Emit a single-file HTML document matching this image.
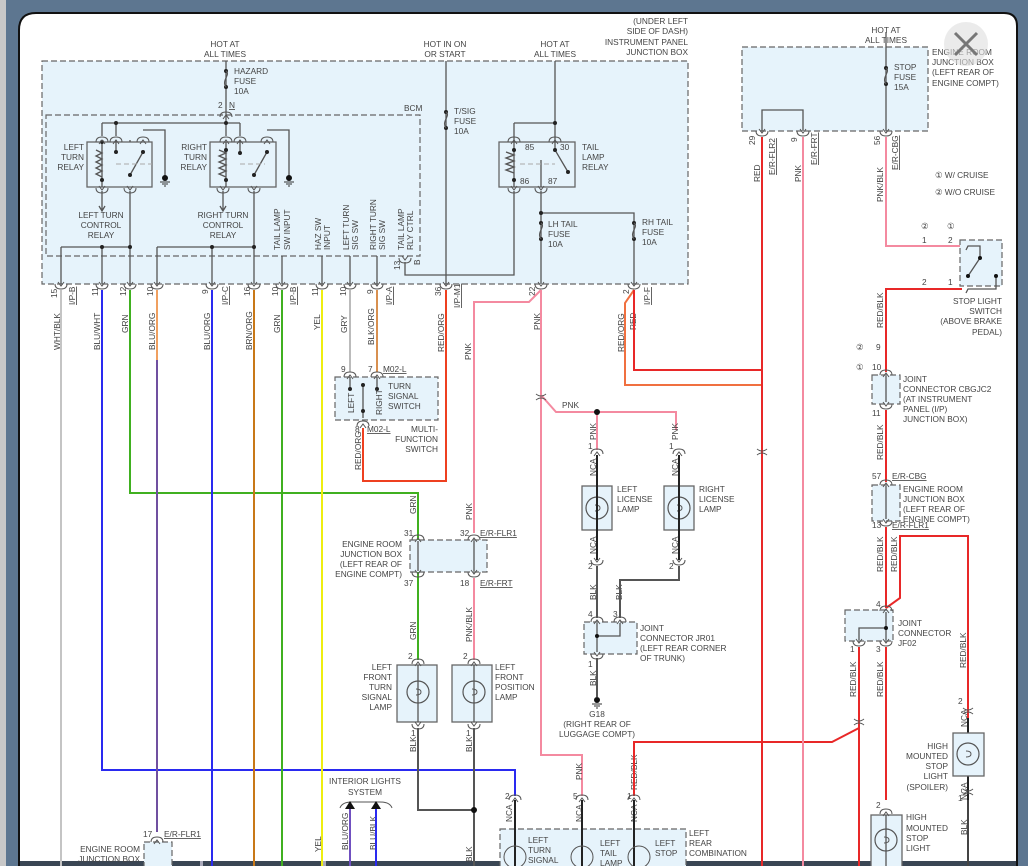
<!DOCTYPE html>
<html><head><meta charset="utf-8"><style>
html,body{margin:0;padding:0;background:#5d7690;}
svg{display:block}
text{font-family:"Liberation Sans",sans-serif;font-size:8.3px;fill:#444;}
.r{text-anchor:end}.m{text-anchor:middle}
.bx{fill:#e6f3fb;stroke:#666;stroke-width:1.2;stroke-dasharray:6,3}
.sb{fill:#e6f3fb;stroke:#666;stroke-width:1.3}
.w{fill:none;stroke-width:2}
.g{fill:none;stroke:#555;stroke-width:1.3}
.u{text-decoration:underline}
</style></head><body>
<svg width="1028" height="866" viewBox="0 0 1028 866" xmlns="http://www.w3.org/2000/svg">
<defs>
<g id="pd"><path d="M-6,-2 Q-6,3 0,3 Q6,3 6,-2" fill="none" stroke="#555" stroke-width="1"/><path d="M-3,-4 L0,0 L3,-4" fill="none" stroke="#555" stroke-width="1"/></g>
<g id="pu"><path d="M-6,2 Q-6,-3 0,-3 Q6,-3 6,2" fill="none" stroke="#555" stroke-width="1"/><path d="M-3,4 L0,0 L3,4" fill="none" stroke="#555" stroke-width="1"/></g>
<g id="cc"><path d="M-5,-3 Q0,1 5,-3 M-5,3 Q0,-1 5,3" fill="none" stroke="#555" stroke-width="1"/></g>
<g id="fu"><circle cx="0" cy="0" r="2" fill="#222"/><circle cx="0" cy="16" r="2" fill="#222"/><path d="M0,0 C5,4 -5,9 0,16" fill="none" stroke="#555" stroke-width="1.2"/></g>
<g id="gnd"><circle cx="0" cy="0" r="3" fill="#111"/><path d="M-5,4 H5 M-3,6 H3 M-1,8 H1" stroke="#333"/></g>
<g id="bulb"><circle cx="0" cy="0" r="11" fill="none" stroke="#555" stroke-width="1.2"/><path d="M-2,-3 Q3,-3 3,0 Q3,3 -2,3" fill="none" stroke="#555"/></g>
</defs>
<rect x="0" y="0" width="1028" height="866" fill="#5d7690"/>
<rect x="0" y="0" width="6" height="866" fill="#c8c8c8"/>
<path d="M19,866 V30 Q19,13 36,13 H1004 Q1017,13 1017,26 V866 Z" fill="#fff" stroke="#111" stroke-width="2"/>
<rect x="20" y="861" width="996" height="5" fill="#3a4654"/>
<rect x="200" y="861" width="3" height="5" fill="#aab"/><rect x="323" y="861" width="3" height="5" fill="#aab"/>

<rect class="bx" x="42" y="61" width="646" height="223"/>
<rect class="bx" x="46" y="115" width="374" height="141"/>
<text x="404" y="111">BCM</text>
<text class="r" x="688" y="24">(UNDER LEFT</text><text class="r" x="688" y="34">SIDE OF DASH)</text>
<text class="r" x="688" y="45">INSTRUMENT PANEL</text><text class="r" x="688" y="55">JUNCTION BOX</text>
<text class="m" x="225" y="47">HOT AT</text><text class="m" x="225" y="57">ALL TIMES</text>
<text class="m" x="445" y="47">HOT IN ON</text><text class="m" x="445" y="57">OR START</text>
<text class="m" x="555" y="47">HOT AT</text><text class="m" x="555" y="57">ALL TIMES</text>
<path class="g" d="M226,61 V123 M102,123 H240 M102,123 V136 M116,123 V136 M226,123 V136 M240,123 V136"/>
<use href="#fu" x="226" y="71"/>
<text x="234" y="74">HAZARD</text><text x="234" y="84">FUSE</text><text x="234" y="94">10A</text>
<text x="218" y="108">2</text><text x="229" y="108" class="u">N</text>
<use href="#pu" x="226" y="115"/>
<circle cx="116" cy="123" r="2" fill="#222"/><circle cx="226" cy="123" r="2" fill="#222"/>
<rect class="sb" x="87" y="142" width="65" height="45" fill="none"/>
<rect class="sb" x="210" y="142" width="66" height="45" fill="none"/>
<rect class="sb" x="499" y="142" width="76" height="45" fill="none"/>
<g class="g">
<path d="M102,142 V187 M130,140 V142 M143,130 H165 V176 M130,175 L143,152"/>
<path d="M96,150 l6,3 -6,3 6,3 -6,3 6,3 -6,3 6,3 -6,3 6,3"/>
<path d="M116,140 V152 M226,142 V187 M240,140 V152 M254,175 L267,152 M267,130 H289 V176"/>
<path d="M219,150 l7,3 -7,3 7,3 -7,3 7,3 -7,3 7,3 -7,3 7,3"/>
<path d="M514,123 H555 V61 M514,123 V187 M555,123 V150 L568,172 M541,160 V187"/>
<path d="M506,152 l8,3 -8,3 8,3 -8,3 8,3 -8,3 8,3"/>
<path d="M102,191 V210 M99,206 L102,211 L105,206 M223,191 V210 M220,206 L223,211 L226,206"/>
<path d="M130,191 V284 M254,191 V284 M61,247 H130 M157,247 H254 M61,247 V284 M102,247 V284 M212,247 V284 M157,247 V284"/>
<path d="M282,256 V284 M322,256 V284 M350,256 V284 M377,256 V284 M405,262 V275 H514 V191 M446,61 V284"/>
<path d="M541,191 V284 M541,213 H634 V284"/>
</g>
<path d="M116,164 H152 M240,164 H265 M520,164 H555" stroke="#aaa" stroke-dasharray="5,3"/>
<g fill="#222"><circle cx="102" cy="142" r="2"/><circle cx="102" cy="180" r="2"/><circle cx="116" cy="152" r="2"/><circle cx="130" cy="175" r="2"/><circle cx="143" cy="152" r="2"/>
<circle cx="226" cy="150" r="2"/><circle cx="226" cy="180" r="2"/><circle cx="240" cy="153" r="2"/><circle cx="254" cy="175" r="2"/><circle cx="267" cy="152" r="2"/>
<circle cx="514" cy="150" r="2"/><circle cx="514" cy="180" r="2"/><circle cx="555" cy="150" r="2"/><circle cx="568" cy="172" r="2"/><circle cx="555" cy="123" r="2"/>
<circle cx="102" cy="247" r="2"/><circle cx="130" cy="247" r="2"/><circle cx="212" cy="247" r="2"/><circle cx="254" cy="247" r="2"/><circle cx="541" cy="213" r="2"/></g>
<use href="#gnd" x="165" y="178"/><use href="#gnd" x="289" y="178"/>
<use href="#pu" x="102" y="140"/><use href="#pu" x="116" y="140"/><use href="#pu" x="143" y="140"/>
<use href="#pu" x="226" y="140"/><use href="#pu" x="240" y="140"/><use href="#pu" x="267" y="140"/>
<use href="#pu" x="514" y="140"/><use href="#pu" x="555" y="140"/>
<use href="#pd" x="102" y="190"/><use href="#pd" x="130" y="190"/><use href="#pd" x="223" y="190"/><use href="#pd" x="254" y="190"/><use href="#pd" x="514" y="190"/><use href="#pd" x="541" y="190"/>
<use href="#pd" x="405" y="260"/>
<text class="r" x="84" y="150">LEFT</text><text class="r" x="84" y="160">TURN</text><text class="r" x="84" y="170">RELAY</text>
<text class="r" x="207" y="150">RIGHT</text><text class="r" x="207" y="160">TURN</text><text class="r" x="207" y="170">RELAY</text>
<text x="525" y="150">85</text><text x="560" y="150">30</text><text x="520" y="184">86</text><text x="548" y="184">87</text>
<text x="582" y="150">TAIL</text><text x="582" y="160">LAMP</text><text x="582" y="170">RELAY</text>
<text class="m" x="101" y="218">LEFT TURN</text><text class="m" x="101" y="228">CONTROL</text><text class="m" x="101" y="238">RELAY</text>
<text class="m" x="223" y="218">RIGHT TURN</text><text class="m" x="223" y="228">CONTROL</text><text class="m" x="223" y="238">RELAY</text>
<g transform="rotate(-90)">
<text x="-250" y="280">TAIL LAMP</text><text x="-250" y="290">SW INPUT</text>
<text x="-250" y="321">HAZ SW</text><text x="-250" y="330">INPUT</text>
<text x="-250" y="349">LEFT TURN</text><text x="-250" y="358">SIG SW</text>
<text x="-250" y="376">RIGHT TURN</text><text x="-250" y="385">SIG SW</text>
<text x="-250" y="404">TAIL LAMP</text><text x="-250" y="413">RLY CTRL</text>
<text x="-270" y="400">13</text><text x="-265" y="420">B</text>
</g>
<use href="#fu" x="446" y="112"/>
<text x="454" y="114">T/SIG</text><text x="454" y="124">FUSE</text><text x="454" y="134">10A</text>
<use href="#fu" x="541" y="223"/><use href="#fu" x="634" y="223"/>
<text x="548" y="227">LH TAIL</text><text x="548" y="237">FUSE</text><text x="548" y="247">10A</text>
<text x="642" y="225">RH TAIL</text><text x="642" y="235">FUSE</text><text x="642" y="245">10A</text>
<g><use href="#pd" x="61" y="286"/><use href="#pd" x="102" y="286"/><use href="#pd" x="130" y="286"/><use href="#pd" x="157" y="286"/><use href="#pd" x="212" y="286"/><use href="#pd" x="254" y="286"/><use href="#pd" x="282" y="286"/><use href="#pd" x="322" y="286"/><use href="#pd" x="350" y="286"/><use href="#pd" x="377" y="286"/><use href="#pd" x="446" y="286"/><use href="#pd" x="541" y="286"/><use href="#pd" x="634" y="286"/></g>
<g transform="rotate(-90)">
<text x="-298" y="57">15</text><text x="-305" y="75" class="u">I/P-B</text>
<text x="-296" y="98">11</text><text x="-296" y="126">12</text><text x="-296" y="153">10</text>
<text x="-294" y="208">9</text><text x="-305" y="228" class="u">I/P-C</text>
<text x="-296" y="250">16</text><text x="-296" y="278">10</text><text x="-305" y="296" class="u">I/P-B</text>
<text x="-296" y="318">11</text><text x="-296" y="346">10</text><text x="-294" y="373">9</text><text x="-305" y="392" class="u">I/P-A</text>
<text x="-296" y="441">36</text><text x="-308" y="460" class="u">I/P-M1</text>
<text x="-296" y="535">22</text><text x="-294" y="629">2</text><text x="-305" y="650" class="u">I/P-F</text>
<text x="-350" y="60">WHT/BLK</text><text x="-350" y="100">BLU/WHT</text><text x="-333" y="128">GRN</text><text x="-350" y="155">BLU/ORG</text>
<text x="-350" y="210">BLU/ORG</text><text x="-350" y="252">BRN/ORG</text><text x="-333" y="280">GRN</text><text x="-330" y="320">YEL</text>
<text x="-333" y="347">GRY</text><text x="-345" y="374">BLK/ORG</text><text x="-352" y="444">RED/ORG</text><text x="-360" y="471">PNK</text>
<text x="-330" y="540">PNK</text><text x="-352" y="624">RED/ORG</text><text x="-330" y="636">RED</text>
</g>

<path class="w" stroke="#c4c4c4" d="M61,290 V866"/>
<path class="w" stroke="#2a2af0" d="M102,290 V770 H515 V796"/>
<path class="w" stroke="#40b020" d="M130,290 V493 H418 V652"/>
<path class="w" stroke="#f0a060" d="M157,290 V360"/><path class="w" stroke="#7050a0" d="M157,360 V832"/>
<path class="w" stroke="#2a2af0" d="M212,290 V866"/>
<path class="w" stroke="#c87818" d="M254,290 V866"/>
<path class="w" stroke="#40b020" d="M282,290 V866"/>
<path class="w" stroke="#eeee10" d="M322,290 V866"/>
<path class="w" stroke="#bbbbbb" d="M350,290 V372"/>
<path class="w" stroke="#d89050" d="M377,290 V372"/>
<path class="w" stroke="#ee4020" d="M446,290 V481 H363 V428"/>
<path class="w" stroke="#f48aa0" d="M541,290 L529,302 H474 V533"/>
<path class="w" stroke="#f48aa0" d="M541,290 V395 L556,412 H676 V430 M597,412 V450 M541,395 V755 H582 V796"/>
<circle cx="597" cy="412" r="3" fill="#111"/>
<use href="#cc" x="541" y="397"/>
<text x="562" y="408">PNK</text>
<path class="w" stroke="#f07040" d="M634,290 L625,303 V385 H762 V450"/>
<path class="w" stroke="#e82828" d="M634,290 V370 H762"/>
<rect class="bx" x="335" y="377" width="103" height="43"/>
<use href="#pu" x="350" y="375"/><use href="#pu" x="377" y="375"/><use href="#pu" x="363" y="424"/>
<path class="g" d="M350,377 V390 M363,384 V418 M377,377 V390"/>
<g fill="#222"><circle cx="350" cy="389" r="2"/><circle cx="363" cy="385" r="2"/><circle cx="363" cy="411" r="2"/><circle cx="377" cy="389" r="2"/></g>
<text x="341" y="372">9</text><text x="368" y="372">7</text><text x="383" y="372" class="u">M02-L</text>
<text x="355" y="432">8</text><text x="367" y="432" class="u">M02-L</text>
<text x="388" y="389">TURN</text><text x="388" y="399">SIGNAL</text><text x="388" y="409">SWITCH</text>
<text class="r" x="438" y="432">MULTI-</text><text class="r" x="438" y="442">FUNCTION</text><text class="r" x="438" y="452">SWITCH</text>
<g transform="rotate(-90)"><text x="-413" y="354">LEFT</text><text x="-415" y="382">RIGHT</text><text x="-470" y="361">RED/ORG</text>
<text x="-514" y="416">GRN</text><text x="-520" y="472">PNK</text></g>
<rect class="bx" x="410" y="540" width="77" height="32"/>
<use href="#pu" x="418" y="538"/><use href="#pu" x="474" y="538"/><use href="#pd" x="418" y="574"/><use href="#pd" x="474" y="574"/>
<path class="g" d="M418,541 V571 M474,541 V571"/>
<text x="404" y="536">31</text><text x="460" y="536">32</text><text x="480" y="536" class="u">E/R-FLR1</text>
<text x="404" y="586">37</text><text x="460" y="586">18</text><text x="480" y="586" class="u">E/R-FRT</text>
<text class="r" x="402" y="547">ENGINE ROOM</text><text class="r" x="402" y="557">JUNCTION BOX</text><text class="r" x="402" y="567">(LEFT REAR OF</text><text class="r" x="402" y="577">ENGINE COMPT)</text>
<path class="w" stroke="#40b020" d="M418,578 V660"/>
<path class="w" stroke="#f48aa0" d="M474,578 V660"/>
<g transform="rotate(-90)"><text x="-640" y="416">GRN</text><text x="-642" y="472">PNK/BLK</text>
<text x="-752" y="416">BLK</text><text x="-752" y="472">BLK</text><text x="-862" y="472">BLK</text><text x="-852" y="321">YEL</text>
<text x="-850" y="348">BLU/ORG</text><text x="-850" y="376">BLU/BLK</text></g>
<rect class="sb" x="397" y="665" width="40" height="57"/><rect class="sb" x="452" y="665" width="40" height="57"/>
<use href="#bulb" x="418" y="692"/><use href="#bulb" x="474" y="692"/>
<path class="g" d="M418,665 V722 M474,665 V722"/>
<use href="#pu" x="418" y="662"/><use href="#pu" x="474" y="662"/><use href="#pd" x="418" y="726"/><use href="#pd" x="474" y="726"/>
<text x="408" y="659">2</text><text x="463" y="659">2</text><text x="411" y="736">1</text><text x="466" y="736">1</text>
<text class="r" x="392" y="670">LEFT</text><text class="r" x="392" y="680">FRONT</text><text class="r" x="392" y="690">TURN</text><text class="r" x="392" y="700">SIGNAL</text><text class="r" x="392" y="710">LAMP</text>
<text x="495" y="670">LEFT</text><text x="495" y="680">FRONT</text><text x="495" y="690">POSITION</text><text x="495" y="700">LAMP</text>
<path d="M418,728 V810 H474 M474,728 V866" fill="none" stroke="#555" stroke-width="2"/>
<circle cx="474" cy="810" r="3" fill="#111"/>
<text class="m" x="365" y="784">INTERIOR LIGHTS</text><text class="m" x="365" y="795">SYSTEM</text>
<path d="M340,808 Q342,802 352,802 H380 Q390,802 392,808" fill="none" stroke="#555"/>
<path d="M345,809 L350,801 L355,809 Z M371,809 L376,801 L381,809 Z" fill="#111"/>
<path class="w" stroke="#7050c0" d="M350,809 V866"/><path class="w" stroke="#2a2af0" d="M376,809 V866"/>
<rect class="bx" x="144" y="842" width="28" height="30"/>
<use href="#pu" x="157" y="840"/>
<text x="143" y="837">17</text><text x="164" y="837" class="u">E/R-FLR1</text>
<text class="r" x="140" y="852">ENGINE ROOM</text><text class="r" x="140" y="862">JUNCTION BOX</text>
<rect class="sb" x="582" y="486" width="30" height="44"/><rect class="sb" x="664" y="486" width="30" height="44"/>
<use href="#bulb" x="597" y="508"/><use href="#bulb" x="679" y="508"/>
<path d="M597,455 V560 M679,455 V560" stroke="#222" stroke-width="2"/>
<use href="#pu" x="597" y="452"/><use href="#pu" x="679" y="452"/><use href="#pd" x="597" y="562"/><use href="#pd" x="679" y="562"/>
<text x="588" y="449">1</text><text x="669" y="449">1</text><text x="588" y="569">2</text><text x="669" y="569">2</text>
<text x="617" y="492">LEFT</text><text x="617" y="502">LICENSE</text><text x="617" y="512">LAMP</text>
<text x="699" y="492">RIGHT</text><text x="699" y="502">LICENSE</text><text x="699" y="512">LAMP</text>
<g transform="rotate(-90)"><text x="-440" y="596">PNK</text><text x="-440" y="678">PNK</text>
<text x="-476" y="596">NCA</text><text x="-476" y="678">NCA</text><text x="-554" y="596">NCA</text><text x="-554" y="678">NCA</text>
<text x="-600" y="596">BLK</text><text x="-600" y="622">BLK</text><text x="-686" y="596">BLK</text>
<text x="-780" y="582">PNK</text><text x="-790" y="637">RED/BLK</text>
<text x="-822" y="512">NCA</text><text x="-822" y="582">NCA</text><text x="-822" y="637">NCA</text></g>
<path d="M597,566 V618 M679,566 V580 H620 V618" fill="none" stroke="#555" stroke-width="2"/>
<rect class="bx" x="584" y="622" width="53" height="32"/>
<use href="#pu" x="597" y="620"/><use href="#pu" x="620" y="620"/><use href="#pd" x="597" y="656"/>
<path class="g" d="M597,623 V652 M597,636 H620 V623"/><circle cx="597" cy="636" r="2" fill="#111"/>
<text x="588" y="617">4</text><text x="613" y="617">3</text><text x="588" y="667">1</text>
<text x="640" y="631">JOINT</text><text x="640" y="641">CONNECTOR JR01</text><text x="640" y="651">(LEFT REAR CORNER</text><text x="640" y="661">OF TRUNK)</text>
<path d="M597,658 V697" stroke="#555" stroke-width="2"/>
<use href="#gnd" x="597" y="700"/>
<text class="m" x="597" y="717">G18</text><text class="m" x="597" y="727">(RIGHT REAR OF</text><text class="m" x="597" y="737">LUGGAGE COMPT)</text>
<path class="w" stroke="#e82828" d="M634,796 V742 H832 L859,728"/>
<rect class="bx" x="500" y="829" width="186" height="40"/>
<path d="M515,800 V866 M582,800 V866 M634,800 V866" stroke="#222" stroke-width="2"/>
<use href="#pu" x="515" y="798"/><use href="#pu" x="582" y="798"/><use href="#pu" x="634" y="798"/>
<text x="505" y="799">2</text><text x="573" y="799">5</text><text x="627" y="799">1</text>
<circle cx="515" cy="857" r="11" fill="none" stroke="#555"/><circle cx="582" cy="857" r="11" fill="none" stroke="#555"/><circle cx="639" cy="857" r="11" fill="none" stroke="#555"/>
<text x="528" y="843">LEFT</text><text x="528" y="853">TURN</text><text x="528" y="863">SIGNAL</text>
<text x="600" y="846">LEFT</text><text x="600" y="856">TAIL</text><text x="600" y="866">LAMP</text>
<text x="655" y="846">LEFT</text><text x="655" y="856">STOP</text>
<text x="689" y="836">LEFT</text><text x="689" y="846">REAR</text><text x="689" y="856">COMBINATION</text>
<rect class="bx" x="742" y="47" width="186" height="84"/>
<text class="m" x="886" y="33">HOT AT</text><text class="m" x="886" y="43">ALL TIMES</text>
<path class="g" d="M886,32 V131 M762,131 V110 H803 V131"/>
<use href="#fu" x="886" y="68"/>
<text x="894" y="70">STOP</text><text x="894" y="80">FUSE</text><text x="894" y="90">15A</text>
<text x="932" y="55">ENGINE ROOM</text><text x="932" y="65">JUNCTION BOX</text><text x="932" y="75">(LEFT REAR OF</text><text x="932" y="86">ENGINE COMPT)</text>
<circle cx="966" cy="44" r="22" fill="#ddd" opacity="0.6"/><path d="M955,33 L977,55 M977,33 L955,55" stroke="#777" stroke-width="3"/>
<use href="#pd" x="762" y="133"/><use href="#pd" x="803" y="133"/><use href="#pd" x="886" y="133"/>
<g transform="rotate(-90)"><text x="-145" y="755">29</text><text x="-142" y="797">9</text><text x="-145" y="880">56</text>
<text x="-175" y="775" class="u">E/R-FLR2</text><text x="-165" y="817" class="u">E/R-FRT</text><text x="-170" y="898" class="u">E/R-CBG</text>
<text x="-182" y="760">RED</text><text x="-182" y="801">PNK</text><text x="-202" y="883">PNK/BLK</text>
<text x="-328" y="883">RED/BLK</text><text x="-460" y="883">RED/BLK</text><text x="-572" y="883">RED/BLK</text><text x="-572" y="897">RED/BLK</text>
<text x="-697" y="856">RED/BLK</text><text x="-697" y="883">RED/BLK</text><text x="-668" y="966">RED/BLK</text>
<text x="-727" y="967">NCA</text><text x="-800" y="967">NCA</text><text x="-835" y="967">BLK</text></g>
<path class="w" stroke="#e82828" d="M762,137 V866"/>
<path class="w" stroke="#f48aa0" d="M803,137 V866"/>
<use href="#cc" x="762" y="452"/>
<path class="w" stroke="#f48aa0" d="M886,137 V246 H962"/>
<path class="w" stroke="#e82828" d="M962,289 H886 V372"/>
<text x="935" y="178">①  W/ CRUISE</text><text x="935" y="195">②  W/O CRUISE</text>
<text x="921" y="229">②</text><text x="947" y="229">①</text>
<text x="922" y="243">1</text><text x="948" y="243">2</text><text x="922" y="285">2</text><text x="948" y="285">1</text>
<rect class="bx" x="960" y="240" width="42" height="46"/>
<path class="g" d="M966,250 L968,246 H980 V258 L968,276 M966,293 L968,289 H996 V276"/>
<circle cx="980" cy="258" r="2" fill="#111"/><circle cx="968" cy="276" r="2" fill="#111"/><circle cx="996" cy="276" r="2" fill="#111"/>
<text class="r" x="1002" y="304">STOP LIGHT</text><text class="r" x="1002" y="314">SWITCH</text><text class="r" x="1002" y="324">(ABOVE BRAKE</text><text class="r" x="1002" y="335">PEDAL)</text>
<text x="856" y="350">②</text><text x="876" y="350">9</text><text x="856" y="370">①</text><text x="872" y="370">10</text>
<rect class="bx" x="872" y="375" width="28" height="29"/>
<use href="#pu" x="886" y="373"/><use href="#pd" x="886" y="406"/><path class="g" d="M886,376 V402"/>
<text x="872" y="416">11</text>
<text x="903" y="382">JOINT</text><text x="903" y="392">CONNECTOR CBGJC2</text><text x="903" y="402">(AT INSTRUMENT</text><text x="903" y="412">PANEL (I/P)</text><text x="903" y="422">JUNCTION BOX)</text>
<path class="w" stroke="#e82828" d="M886,410 V482"/>
<text x="872" y="479">57</text><text x="892" y="479" class="u">E/R-CBG</text>
<rect class="bx" x="872" y="485" width="28" height="36"/>
<use href="#pu" x="886" y="483"/><use href="#pd" x="886" y="523"/><path class="g" d="M886,486 V519"/>
<text x="903" y="492">ENGINE ROOM</text><text x="903" y="502">JUNCTION BOX</text><text x="903" y="512">(LEFT REAR OF</text><text x="903" y="522">ENGINE COMPT)</text>
<text x="872" y="528">13</text><text x="892" y="528" class="u">E/R-FLR1</text>
<path class="w" stroke="#e82828" d="M886,527 V608 M886,608 L900,598 V536 H968 V718"/>
<text x="876" y="607">4</text>
<rect class="bx" x="845" y="610" width="48" height="31"/>
<use href="#pu" x="886" y="609"/><use href="#pd" x="859" y="643"/><use href="#pd" x="886" y="643"/>
<path class="g" d="M886,612 V640 M886,628 H859 V640"/><circle cx="886" cy="628" r="2" fill="#111"/>
<text x="898" y="626">JOINT</text><text x="898" y="636">CONNECTOR</text><text x="898" y="646">JF02</text>
<text x="850" y="652">1</text><text x="876" y="652">3</text>
<path class="w" stroke="#e82828" d="M859,647 V866 M886,647 V800"/>
<use href="#cc" x="859" y="722"/>
<text x="876" y="808">2</text>
<rect class="sb" x="871" y="815" width="31" height="55"/>
<use href="#bulb" x="886" y="840"/><use href="#pu" x="886" y="812"/><path class="g" d="M886,815 V866"/>
<text x="906" y="820">HIGH</text><text x="906" y="831">MOUNTED</text><text x="906" y="841">STOP</text><text x="906" y="851">LIGHT</text>
<text x="958" y="704">2</text>
<path d="M968,718 V866" stroke="#222" stroke-width="2"/>
<use href="#cc" x="968" y="711"/><use href="#cc" x="968" y="792"/>
<path class="w" stroke="#444" d="M968,800 V866"/>
<rect class="sb" x="953" y="733" width="31" height="43"/>
<use href="#bulb" x="968" y="754"/>
<text class="r" x="948" y="749">HIGH</text><text class="r" x="948" y="759">MOUNTED</text><text class="r" x="948" y="769">STOP</text><text class="r" x="948" y="779">LIGHT</text><text class="r" x="948" y="790">(SPOILER)</text>
<text x="958" y="801">1</text>
</svg>
</body></html>
